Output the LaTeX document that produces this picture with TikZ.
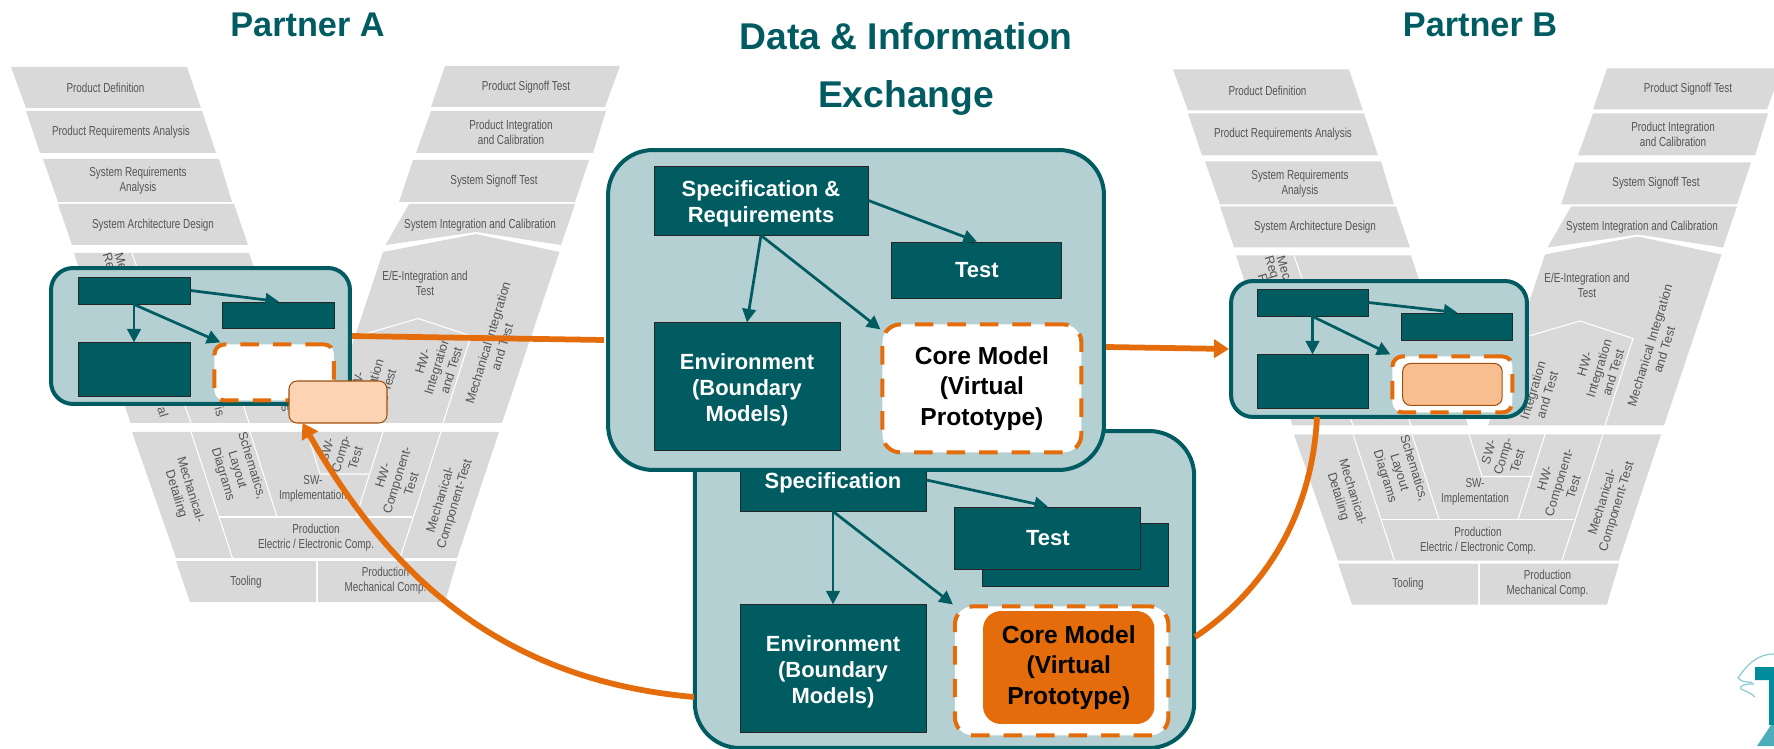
\documentclass[tikz,border=0pt]{standalone}
\usepackage{tikz}
\usepackage{fontspec}
\setmainfont{Liberation Sans}
\usetikzlibrary{positioning,arrows.meta}

\definecolor{blockteal}{HTML}{005C61}
\definecolor{paneteal}{HTML}{B5D0D3}
\definecolor{linkorange}{HTML}{E46C0A}
\definecolor{peachlight}{HTML}{FCD3B3}
\definecolor{peachdark}{HTML}{F9BE8F}
\definecolor{peachline}{HTML}{A0500F}
\definecolor{vgray}{HTML}{D9D9D9}
\definecolor{vtext}{HTML}{555555}
\definecolor{logoteal}{HTML}{008C9A}

\newcommand{\upstrut}{\rule{0pt}{12.5pt}}

\tikzset{
  title/.style={text=blockteal,font=\bfseries\fontsize{19.5}{33}\selectfont,align=center},
  pane/.style={draw=blockteal,fill=paneteal,line width=.08cm,inner sep=0pt},
  blockbox/.style={draw=black!85,fill=blockteal,line width=.5pt,inner sep=0pt,text=white,align=center,
    font=\bfseries\fontsize{12.5}{14.8}\selectfont},
  corebox/.style={draw=linkorange,fill=white,line width=.08cm,dash pattern=on 10.5pt off 8pt,rounded corners=.36cm,
    inner sep=0pt,align=center,font=\bfseries\fontsize{14}{17.4}\selectfont},
  peach/.style={draw=peachline,line width=.6pt,rounded corners=.16cm,inner sep=0pt},
  teallink/.style={draw=blockteal,line width=.055cm,-{Stealth[inset=0pt,length=.27cm,width=.27cm]}},
  orangelink/.style={draw=linkorange,line width=.115cm},
  orangearrow/.style={orangelink,-{Stealth[inset=0pt,length=.3cm,width=.36cm]}},
  vband/.style={fill=vgray},
  vline/.style={draw=white,line width=.6pt},
  vlabel/.style={text=vtext,inner sep=0pt,align=center,font=\fontsize{7.4}{8.5}\selectfont,xscale=.76,transform shape},
  vdown/.style={text=vtext,inner sep=0pt,align=center,font=\fontsize{7.2}{8.5}\selectfont,rotate=-73},
  vup/.style={text=vtext,inner sep=0pt,align=center,font=\fontsize{7.2}{8.5}\selectfont,rotate=73},
}

\newcommand{\vchart}{
  %left arm
  \fill[vband] (11,67) -- (187,67) -- (201,108) -- (26,108) -- cycle;
  \fill[vband] (26,111) -- (202,111) -- (216,153) -- (40,153) -- cycle;
  \fill[vband] (43,159) -- (219,159) -- (232,202) -- (58,202) -- cycle;
  \fill[vband] (58,204) -- (234,204) -- (248,245) -- (72,245) -- cycle;
  \fill[vband] (74,253) -- (249,253) -- (306,423) -- (130.5,423) -- cycle;
  %right arm
  \fill[vband] (445,66) -- (620,66) -- (605,107) -- (431,107) -- cycle;
  \fill[vband] (431,111) -- (606,111) -- (593,153) -- (416,153) -- cycle;
  \fill[vband] (413,160) -- (589,160) -- (575,202) -- (399,202) -- cycle;
  \fill[vband] (409,204) -- (575,204) -- (561,245) -- (476,232) -- (385.5,245) -- cycle;
  \fill[vband] (383,252) -- (476,234) -- (559.5,252) -- (502,423) -- (326,423) -- cycle;
  %bottom
  \fill[vband] (132,432) -- (499,432) -- (457,558) -- (176,558) -- cycle;
  \fill[vband] (176,561) -- (316,561) -- (316,602) -- (190,602) -- cycle;
  \fill[vband] (318,561) -- (457,561) -- (445,602) -- (318,602) -- cycle;
  %dividers
  \draw[vline] (132,253) -- (191,423);
  \draw[vline] (225,350) -- (249,423);
  \draw[vline] (355,337) -- (418,318.5) -- (471,336) -- (443,423);
  \draw[vline] (191,432) -- (232.5,558);
  \draw[vline] (250,432) -- (277,517);
  \draw[vline] (219,517) -- (412,517);
  \draw[vline] (383,432) -- (356,517);
  \draw[vline] (441,432) -- (400,558);
  \draw[vline] (307,432) -- (320,474) -- (369,474);
  %labels
  \node[vlabel] (pdef) at (105.5,88) {Product Definition};
  \node[vlabel] (preq) at (121,132) {Product Requirements Analysis};
  \node[vlabel] (sreq) at (138,181) {System Requirements\\Analysis};
  \node[vlabel] (sarch) at (153,225) {System Architecture Design};
  \node[vlabel] (psign) at (526,87) {Product Signoff Test};
  \node[vlabel] (pint) at (511,132) {Product Integration\\and Calibration};
  \node[vlabel] (ssign) at (494,181) {System Signoff Test};
  \node[vlabel] (sint) at (480,225) {System Integration and Calibration};
  \node[vlabel] (eeint) at (425,283) {E/E-Integration and\\Test};
  \node[vup] (mint) at (495,345) {Mechanical Integration\\and Test};
  \node[vup] (hwint) at (437,366) {HW-\\Integration\\and Test};
  \node[vup] (swint) at (371,388) {SW-\\Integration\\and Test};
  \node[vdown] (mecfrag) at (122,265) {Mec};
  \node[vdown] (reqfrag) at (109,265) {Req};
  \node[vdown] (ffrag) at (101,275) {F};
  \node[vdown] (alfrag) at (163,412) {al};
  \node[vdown] (isfrag) at (220,412) {is};
  \node[vdown] (sfrag) at (285,409) {s};
  \node[vdown] (mdet) at (183,492) {Mechanical-\\Detailing};
  \node[vdown] (schem) at (237,470) {Schematics,\\Layout\\Diagrams};
  \node[vup] (swcomp) at (341,454) {SW-\\Comp-\\Test};
  \node[vlabel] (swimp) at (313,489) {SW-\\Implementation};
  \node[vup] (hwcomp) at (397,480) {HW-\\Component-\\Test};
  \node[vup] (mcomp) at (448,502) {Mechanical-\\Component-Test};
  \node[vlabel] (prode) at (316,538) {Production\\Electric / Electronic Comp.};
  \node[vlabel] (tool) at (246,582) {Tooling};
  \node[vlabel] (prodm) at (385.5,581) {Production\\Mechanical Comp.};
}

\begin{document}
\begin{tikzpicture}[x=.02cm,y=-.02cm]
  \useasboundingbox (0,0) rectangle (1774,749);

  \node[title] (ta) at (307.5,25) {Partner A};
  \node[title] (tb) at (1480,25) {Partner B};
  \node[title,font=\bfseries\fontsize{21.2}{33}\selectfont] (td) at (906,69) {Data \& Information\\Exchange};

  %v charts
  \begin{scope}[name prefix=a-]
    \vchart
  \end{scope}
  \begin{scope}[shift={(1162,2.5)},name prefix=b-]
    \vchart
  \end{scope}

  %logo
  \fill[logoteal] (1755,667) -- (1774,667) -- (1774,725) -- (1769,725) -- (1769,680) -- (1755,680) -- cycle;
  \fill[logoteal!70] (1771,725) -- (1774,725) -- (1774,746) -- (1757,746) -- cycle;
  \draw[logoteal!45,line width=.7pt] (1774,654) .. controls (1755,654) and (1745,668) .. (1738,678) .. controls (1745,685) and (1752,680) .. (1753,684) .. controls (1745,684) and (1738,686) .. (1741,689) .. controls (1748,692) and (1752,694) .. (1755,697);

  %lower pane
  \node[pane,rounded corners=.9cm,minimum width=9.99cm,minimum height=6.34cm] (lowpane) at (944.5,589.5) {};
  \node[blockbox,minimum width=3.72cm,minimum height=1.24cm] (lowspec) at (833,480) {\upstrut Specification};
  \node[blockbox,minimum width=3.72cm,minimum height=2.56cm,below=1.86cm of lowspec.south west,anchor=north west] (lowenv) {\upstrut Environment\\(Boundary\\Models)};
  \node[corebox,minimum width=4.27cm,minimum height=2.58cm,right=.53cm of lowenv.north east,anchor=north west] (lowcore) {};
  \node[blockbox,minimum width=3.72cm,minimum height=1.26cm,right=1.12cm of lowspec.north east,anchor=north west,yshift=-1.48cm] (lowtestb) {};
  \node[blockbox,minimum width=3.72cm,minimum height=1.24cm,right=.56cm of lowspec.north east,anchor=north west,yshift=-1.16cm] (lowtest) {Test};
  \node[fill=linkorange,rounded corners=.36cm,inner sep=0pt,align=center,minimum width=3.43cm,minimum height=2.26cm,
    font=\bfseries\fontsize{14}{17.4}\selectfont] (lowfill) at (1068.75,667.5) {Core Model\\(Virtual\\Prototype)};

  %spec>others
  \draw[teallink] (lowspec.east) -- (lowtest.north);
  \draw[teallink] (lowspec.south) -- (lowenv.north);
  \draw[teallink] (lowspec.south) -- (lowcore.north west);

  %upper pane
  \node[pane,rounded corners=.9cm,minimum width=9.92cm,minimum height=6.4cm] (datapane) at (856,310) {};
  \node[blockbox,minimum width=4.28cm,minimum height=1.38cm] (dataspec) at (761,200.5) {\upstrut Specification \&\\Requirements};
  \node[blockbox,minimum width=3.72cm,minimum height=2.56cm,below=1.74cm of dataspec.south west,anchor=north west] (dataenv) {\upstrut Environment\\(Boundary\\Models)};
  \node[corebox,minimum width=3.98cm,minimum height=2.56cm,right=.8cm of dataenv.north east,anchor=north west] (datacore) {Core Model\\(Virtual\\Prototype)};
  \node[blockbox,minimum width=3.4cm,minimum height=1.12cm,right=.46cm of dataspec.north east,anchor=north west,yshift=-1.52cm] (datatest) {Test};

  %spec>others
  \draw[teallink] (dataspec.east) -- (datatest.north);
  \draw[teallink] (dataspec.south) -- (dataenv.north);
  \draw[teallink] (dataspec.south) -- ([yshift=-.14cm]datacore.north west);

  %partner a pane
  \node[pane,rounded corners=.44cm,minimum width=5.98cm,minimum height=2.72cm] (apane) at (200.5,336) {};
  \node[blockbox,minimum width=2.24cm,minimum height=.54cm] (aspec) at (134,290.5) {};
  \node[blockbox,minimum width=2.24cm,minimum height=1.08cm,below=.76cm of aspec.south west,anchor=north west] (aenv) {};
  \node[corebox,minimum width=2.39cm,minimum height=1.12cm,rounded corners=.2cm,right=.44cm of aenv.north east,anchor=north west] (acore) {};
  \node[blockbox,minimum width=2.24cm,minimum height=.52cm,right=.64cm of aspec.north east,anchor=north west,yshift=-.5cm] (atest) {};
  \node[peach,fill=peachlight,minimum width=1.96cm,minimum height=.84cm] (apeach) at (338,402) {};

  %spec>others
  \draw[teallink] (aspec.east) -- (atest.north);
  \draw[teallink] (aspec.south) -- (aenv.north);
  \draw[teallink] (aspec.south) -- ([xshift=.16cm]acore.north west);

  %partner b pane
  \node[pane,rounded corners=.44cm,minimum width=5.92cm,minimum height=2.72cm] (bpane) at (1379,349) {};
  \node[blockbox,minimum width=2.22cm,minimum height=.54cm] (bspec) at (1312.5,302.5) {};
  \node[blockbox,minimum width=2.22cm,minimum height=1.08cm,below=.76cm of bspec.south west,anchor=north west] (benv) {};
  \node[corebox,minimum width=2.4cm,minimum height=1.12cm,rounded corners=.2cm,right=.44cm of benv.north east,anchor=north west] (bcore) {};
  \node[blockbox,minimum width=2.22cm,minimum height=.54cm,right=.66cm of bspec.north east,anchor=north west,yshift=-.48cm] (btest) {};
  \node[peach,fill=peachdark,minimum width=1.99cm,minimum height=.84cm] (bpeach) at (bcore) {};

  %spec>others
  \draw[teallink] (bspec.east) -- (btest.north);
  \draw[teallink] (bspec.south) -- (benv.north);
  \draw[teallink] (bspec.south) -- (bcore.north west);

  %orange links
  \coordinate (datain) at (604,340);
  \coordinate (dataout) at (1106,347);
  \coordinate (lowleft) at (694,697);
  \coordinate (lowright) at (1195,637);
  \coordinate (apeachin) at (302.5,423);
  \coordinate (bpaneout) at (1317,417);

  \draw[orangelink] (apane.east) -- (datain);
  \draw[orangearrow] (dataout) -- (bpane.west);
  \draw[orangearrow] (lowleft) .. controls (500,680) and (390,575) .. (apeachin);
  \draw[orangelink] (lowright) .. controls (1265,590) and (1312,515) .. (bpaneout);
\end{tikzpicture}
\end{document}
